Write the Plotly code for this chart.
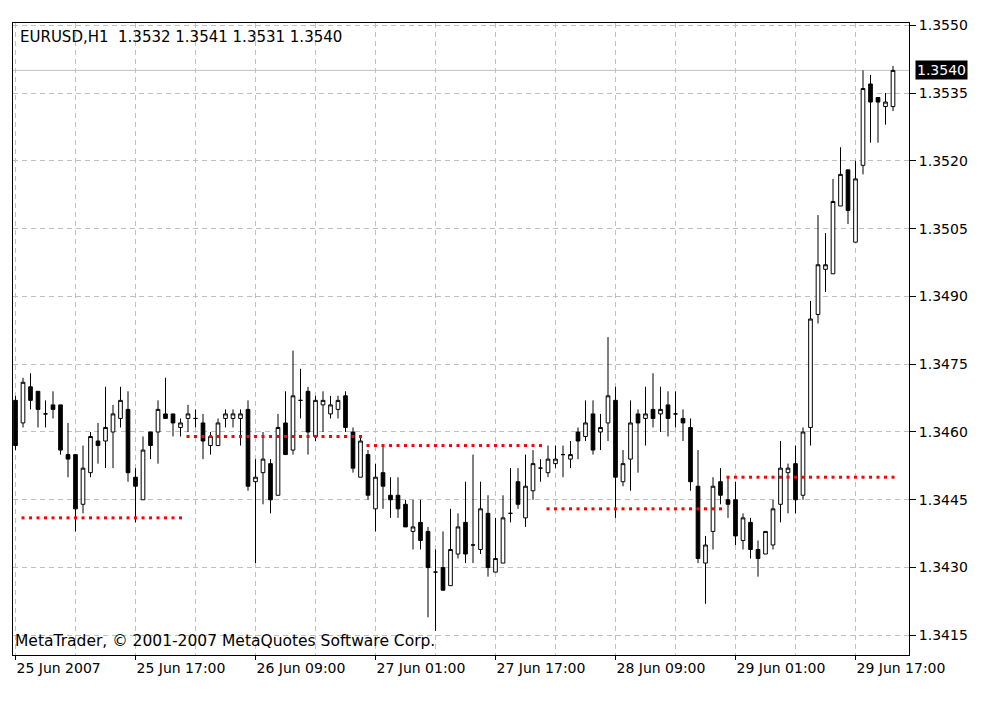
import plotly.graph_objects as go

# ---------------- data (EURUSD H1, 25-29 Jun 2007) ----------------
bar_index = list(range(118))

open_ = [1.3467, 1.3462, 1.3470, 1.3469, 1.3464, 1.3466, 1.3466, 1.3455, 1.3455, 1.3444,
         1.3451, 1.3458, 1.3458, 1.3460, 1.3463, 1.3465, 1.3450, 1.3445, 1.3460, 1.3460,
         1.3464, 1.3464, 1.3461, 1.3463, 1.3463, 1.3462, 1.3457, 1.3457, 1.3463, 1.3463,
         1.3463, 1.3465, 1.3449, 1.3451, 1.3453, 1.3446, 1.3462, 1.3456, 1.3467, 1.3469,
         1.3459, 1.3466, 1.3464, 1.3465, 1.3468, 1.3460, 1.3450, 1.3455, 1.3443, 1.3451,
         1.3446, 1.3446, 1.3444, 1.3438, 1.3440, 1.3438, 1.3429, 1.3430, 1.3426, 1.3433,
         1.3440, 1.3435, 1.3434, 1.3442, 1.3429, 1.3431, 1.3442, 1.3449, 1.3441, 1.3447,
         1.3452, 1.3451, 1.3453, 1.3455, 1.3454, 1.3460, 1.3459, 1.3464, 1.3460, 1.3462,
         1.3467, 1.3449, 1.3454, 1.3464, 1.3463, 1.3465, 1.3464, 1.3466, 1.3464, 1.3463,
         1.3461, 1.3448, 1.3431, 1.3438, 1.3449, 1.3445, 1.3445, 1.3436, 1.3440, 1.3434,
         1.3433, 1.3435, 1.3444, 1.3451, 1.3453, 1.3446, 1.3461, 1.3486, 1.3496, 1.3495,
         1.3510, 1.3518, 1.3502, 1.3519, 1.3537, 1.3534, 1.3532, 1.3532]

high = [1.3468, 1.3472, 1.3473, 1.3469, 1.3467, 1.3469, 1.3466, 1.3462, 1.3455, 1.3457,
        1.3460, 1.3462, 1.3470, 1.3466, 1.3470, 1.3469, 1.3452, 1.3459, 1.3460, 1.3467,
        1.3472, 1.3464, 1.3463, 1.3466, 1.3465, 1.3464, 1.3460, 1.3463, 1.3465, 1.3465,
        1.3465, 1.3467, 1.3454, 1.3460, 1.3454, 1.3464, 1.3469, 1.3478, 1.3474, 1.3470,
        1.3468, 1.3469, 1.3468, 1.3468, 1.3469, 1.3461, 1.3459, 1.3456, 1.3453, 1.3457,
        1.3450, 1.3450, 1.3445, 1.3445, 1.3445, 1.3439, 1.3434, 1.3438, 1.3443, 1.3442,
        1.3449, 1.3455, 1.3449, 1.3446, 1.3441, 1.3446, 1.3452, 1.3452, 1.3455, 1.3456,
        1.3454, 1.3457, 1.3457, 1.3457, 1.3458, 1.3461, 1.3467, 1.3467, 1.3464, 1.3481,
        1.3470, 1.3456, 1.3467, 1.3465, 1.3470, 1.3473, 1.3470, 1.3469, 1.3469, 1.3465,
        1.3463, 1.3456, 1.3437, 1.3450, 1.3452, 1.3450, 1.3449, 1.3442, 1.3441, 1.3436,
        1.3438, 1.3445, 1.3458, 1.3453, 1.3457, 1.3461, 1.3489, 1.3508, 1.3504, 1.3516,
        1.3523, 1.3518, 1.3520, 1.3540, 1.3539, 1.3534, 1.3535, 1.3541]

low = [1.3456, 1.3461, 1.3465, 1.3461, 1.3461, 1.3463, 1.3455, 1.3450, 1.3438, 1.3442,
       1.3450, 1.3453, 1.3452, 1.3452, 1.3461, 1.3449, 1.3440, 1.3445, 1.3454, 1.3453,
       1.3463, 1.3459, 1.3459, 1.3460, 1.3461, 1.3454, 1.3455, 1.3457, 1.3461, 1.3461,
       1.3457, 1.3447, 1.3431, 1.3444, 1.3442, 1.3446, 1.3455, 1.3455, 1.3463, 1.3455,
       1.3458, 1.3460, 1.3463, 1.3463, 1.3460, 1.3451, 1.3450, 1.3445, 1.3438, 1.3443,
       1.3441, 1.3441, 1.3439, 1.3434, 1.3434, 1.3419, 1.3416, 1.3425, 1.3426, 1.3432,
       1.3431, 1.3431, 1.3433, 1.3428, 1.3429, 1.3431, 1.3440, 1.3443, 1.3439, 1.3445,
       1.3449, 1.3450, 1.3452, 1.3450, 1.3452, 1.3454, 1.3458, 1.3455, 1.3456, 1.3458,
       1.3441, 1.3448, 1.3447, 1.3451, 1.3457, 1.3461, 1.3460, 1.3459, 1.3461, 1.3458,
       1.3447, 1.3431, 1.3422, 1.3434, 1.3444, 1.3441, 1.3435, 1.3434, 1.3432, 1.3428,
       1.3433, 1.3434, 1.3440, 1.3442, 1.3442, 1.3445, 1.3457, 1.3484, 1.3491, 1.3495,
       1.3510, 1.3506, 1.3502, 1.3517, 1.3524, 1.3524, 1.3528, 1.3531]

close = [1.3457, 1.3471, 1.3467, 1.3465, 1.3464, 1.3465, 1.3456, 1.3454, 1.3443, 1.3452,
         1.3459, 1.3457, 1.3461, 1.3464, 1.3467, 1.3451, 1.3448, 1.3456, 1.3457, 1.3465,
         1.3463, 1.3462, 1.3462, 1.3464, 1.3463, 1.3458, 1.3459, 1.3462, 1.3464, 1.3464,
         1.3464, 1.3448, 1.3450, 1.3454, 1.3445, 1.3461, 1.3455, 1.3468, 1.3467, 1.3460,
         1.3467, 1.3467, 1.3466, 1.3467, 1.3461, 1.3452, 1.3458, 1.3446, 1.3450, 1.3448,
         1.3445, 1.3443, 1.3439, 1.3439, 1.3436, 1.3430, 1.3429, 1.3425, 1.3434, 1.3439,
         1.3433, 1.3435, 1.3443, 1.3430, 1.3432, 1.3441, 1.3442, 1.3444, 1.3448, 1.3453,
         1.3452, 1.3454, 1.3454, 1.3455, 1.3455, 1.3458, 1.3462, 1.3456, 1.3461, 1.3468,
         1.3450, 1.3453, 1.3462, 1.3462, 1.3464, 1.3463, 1.3465, 1.3463, 1.3464, 1.3462,
         1.3449, 1.3432, 1.3435, 1.3448, 1.3446, 1.3444, 1.3437, 1.3441, 1.3434, 1.3432,
         1.3438, 1.3443, 1.3452, 1.3452, 1.3445, 1.3460, 1.3485, 1.3497, 1.3497, 1.3511,
         1.3517, 1.3509, 1.3516, 1.3536, 1.3533, 1.3533, 1.3533, 1.3540]

# daily level (red dotted) : first bar, last bar, price
level_start = [1, 23, 47, 71, 95]
level_end = [22, 46, 70, 94, 117]
level_price = [1.3441, 1.3459, 1.3457, 1.3443, 1.3450]

x_tick_bars = [0, 16, 32, 48, 64, 80, 96, 112]
x_tick_labels = ["25 Jun 2007", "25 Jun 17:00", "26 Jun 09:00", "27 Jun 01:00",
                 "27 Jun 17:00", "28 Jun 09:00", "29 Jun 01:00", "29 Jun 17:00"]
y_tick_values = [1.3415, 1.3430, 1.3445, 1.3460, 1.3475, 1.3490, 1.3505, 1.3520, 1.3535, 1.3550]

symbol = "EURUSD,H1"

# ---------------- figure ----------------
FONT = "DejaVu Sans"
FS = 14
GRID = "#c0c0c0"

fig = go.Figure()

fig.add_trace(go.Candlestick(
    x=bar_index, open=open_, high=high, low=low, close=close,
    increasing=dict(fillcolor="white", line=dict(color="black", width=1)),
    decreasing=dict(fillcolor="black", line=dict(color="black", width=1)),
    whiskerwidth=0, showlegend=False, hoverinfo="skip",
))

for s, e, p in zip(level_start, level_end, level_price):
    xs = list(range(s, e + 1))
    fig.add_trace(go.Scatter(
        x=xs, y=[p] * len(xs), mode="markers",
        marker=dict(symbol="square", size=3, color="#ff0000", line=dict(width=0)),
        showlegend=False, hoverinfo="skip",
    ))

# current price line
fig.add_hline(y=close[-1], line=dict(color=GRID, width=1), layer="below")

# page body has an 8px margin -> margins are reduced by 8px on left/top
fig.update_layout(
    width=1008, height=713,
    margin=dict(l=5, r=107, t=15, b=66),
    paper_bgcolor="white", plot_bgcolor="white",
    font=dict(family=FONT, size=FS, color="black"),
    showlegend=False,
    xaxis=dict(
        range=[-0.333, 119.133], rangeslider=dict(visible=False),
        tickmode="array", tickvals=x_tick_bars, ticktext=x_tick_labels,
        ticks="outside", ticklen=4, tickcolor="black",
        ticklabelposition="outside right",
        showgrid=True, gridcolor=GRID, griddash="5px,4px", gridwidth=1,
        minor=dict(tickmode="linear", tick0=0, dtick=8, showgrid=True,
                   gridcolor=GRID, griddash="5px,4px", gridwidth=1, ticks=""),
        showline=True, linecolor="black", linewidth=1, mirror=True,
        zeroline=False, fixedrange=True,
    ),
    yaxis=dict(
        range=[1.341066, 1.355049], side="right",
        tickmode="array", tickvals=y_tick_values,
        ticktext=[f"{v:.4f}" for v in y_tick_values],
        ticks="outside", ticklen=6, tickcolor="black",
        showgrid=True, gridcolor=GRID, griddash="5px,4px", gridwidth=1,
        showline=True, linecolor="black", linewidth=1, mirror=True,
        zeroline=False, fixedrange=True,
    ),
)

fig.add_annotation(
    xref="paper", yref="paper", x=0.006, y=0.978, xanchor="left", yanchor="middle",
    text=f"{symbol}\u00a0\u00a0{open_[-1]:.4f} {high[-1]:.4f} {low[-1]:.4f} {close[-1]:.4f}",
    showarrow=False, font=dict(family=FONT, size=15, color="black"),
)
fig.add_annotation(
    xref="paper", yref="paper", x=0.0, y=0.022, xanchor="left", yanchor="middle",
    text="MetaTrader, © 2001-2007 MetaQuotes Software Corp.",
    showarrow=False, font=dict(family=FONT, size=15.5, color="black"),
)
fig.add_annotation(
    xref="paper", yref="y", x=1, y=close[-1], xanchor="left", yanchor="middle",
    xshift=6, text=f"{close[-1]:.4f}", showarrow=False,
    bgcolor="black", borderpad=1,
    font=dict(family=FONT, size=FS, color="white"),
)

fig.write_html("out.html")
